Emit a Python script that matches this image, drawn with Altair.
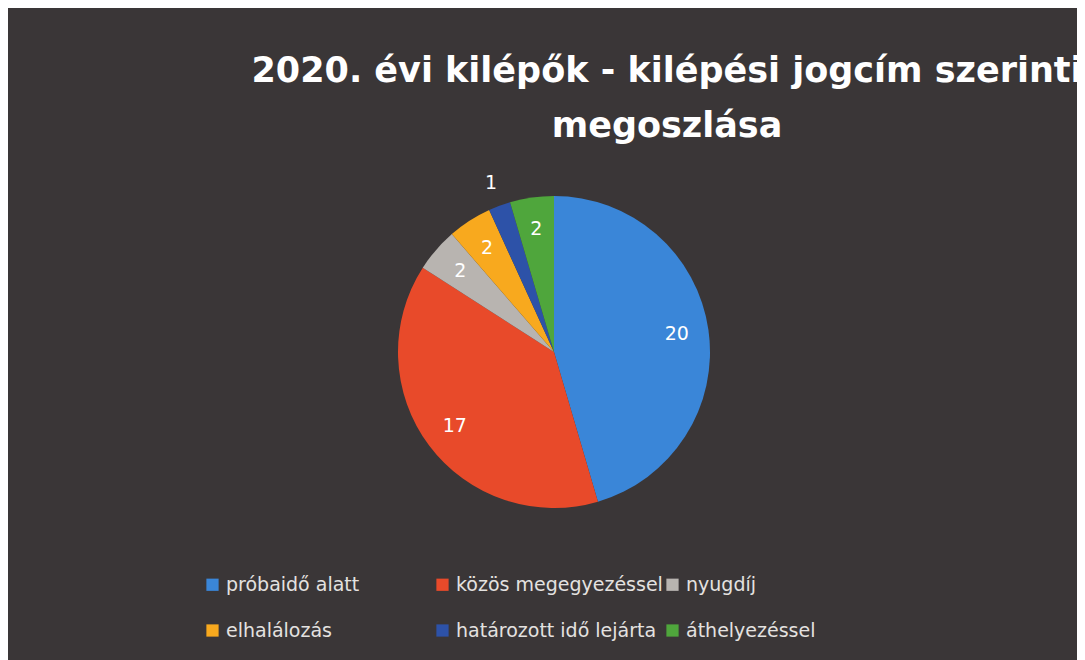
import altair as alt
import pandas as pd

TITLE_LINES = ["2020. évi kilépők - kilépési jogcím szerinti", "megoszlása"]
CATEGORIES = ["próbaidő alatt", "közös megegyezéssel", "nyugdíj",
              "elhalálozás", "határozott idő lejárta", "áthelyezéssel"]
VALUES = [20, 17, 2, 2, 1, 2]
COLORS = ["#3a86d8", "#e84a2a", "#b8b4b0", "#f8a91e", "#2d52a8", "#4fa63c"]

df = pd.DataFrame({"kategoria": CATEGORIES, "ertek": VALUES,
                   "sorrend": list(range(len(CATEGORIES)))})

BG = "#3a3637"
FONT = "DejaVu Sans"
CX, CY, R = 546, 344, 156

base = alt.Chart(df).encode(
    theta=alt.Theta("ertek:Q", stack=True),
    order=alt.Order("sorrend:Q"),
)

pie = base.mark_arc(outerRadius=R, stroke=None).encode(
    x=alt.value(CX), y=alt.value(CY),
    color=alt.Color(
        "kategoria:N",
        scale=alt.Scale(domain=CATEGORIES, range=COLORS),
        sort=CATEGORIES,
        legend=alt.Legend(
            title=None, orient="none", legendX=195, legendY=567,
            direction="horizontal",
            columns=3, gridAlign="all", columnPadding=-10, rowPadding=26,
            symbolType="square", symbolSize=150, symbolStrokeWidth=0,
            symbolOpacity=1, labelFont=FONT, labelFontSize=19,
            labelColor="#e4e2e0", labelOffset=4, labelLimit=500, padding=0,
        ),
    ),
)

labels_in = base.mark_text(radius=124, font=FONT, fontSize=19, color="white").encode(
    x=alt.value(CX), y=alt.value(CY),
    text=alt.Text("lbl:N"),
).transform_calculate(
    lbl="datum.ertek > 1 ? '' + datum.ertek : ''"
)

labels_out = base.mark_text(radius=180, font=FONT, fontSize=19, color="white").encode(
    x=alt.value(CX), y=alt.value(CY),
    text=alt.Text("lbl:N"),
).transform_calculate(
    lbl="datum.ertek == 1 ? '' + datum.ertek : ''"
)

title = alt.Chart(pd.DataFrame({"t": [0]})).mark_text(
    text=TITLE_LINES, font=FONT, fontSize=35, fontWeight="bold",
    color="white", align="center", baseline="alphabetic", lineHeight=55,
).encode(x=alt.value(659), y=alt.value(74))

chart = alt.layer(pie, labels_in, labels_out, title).properties(
    width=1069, height=652,
    autosize=alt.AutoSizeParams(type="none"),
    padding=0,
    background=BG,
).configure_view(stroke=None)

chart.save("out.html", embed_options={"renderer": "svg", "actions": False})
